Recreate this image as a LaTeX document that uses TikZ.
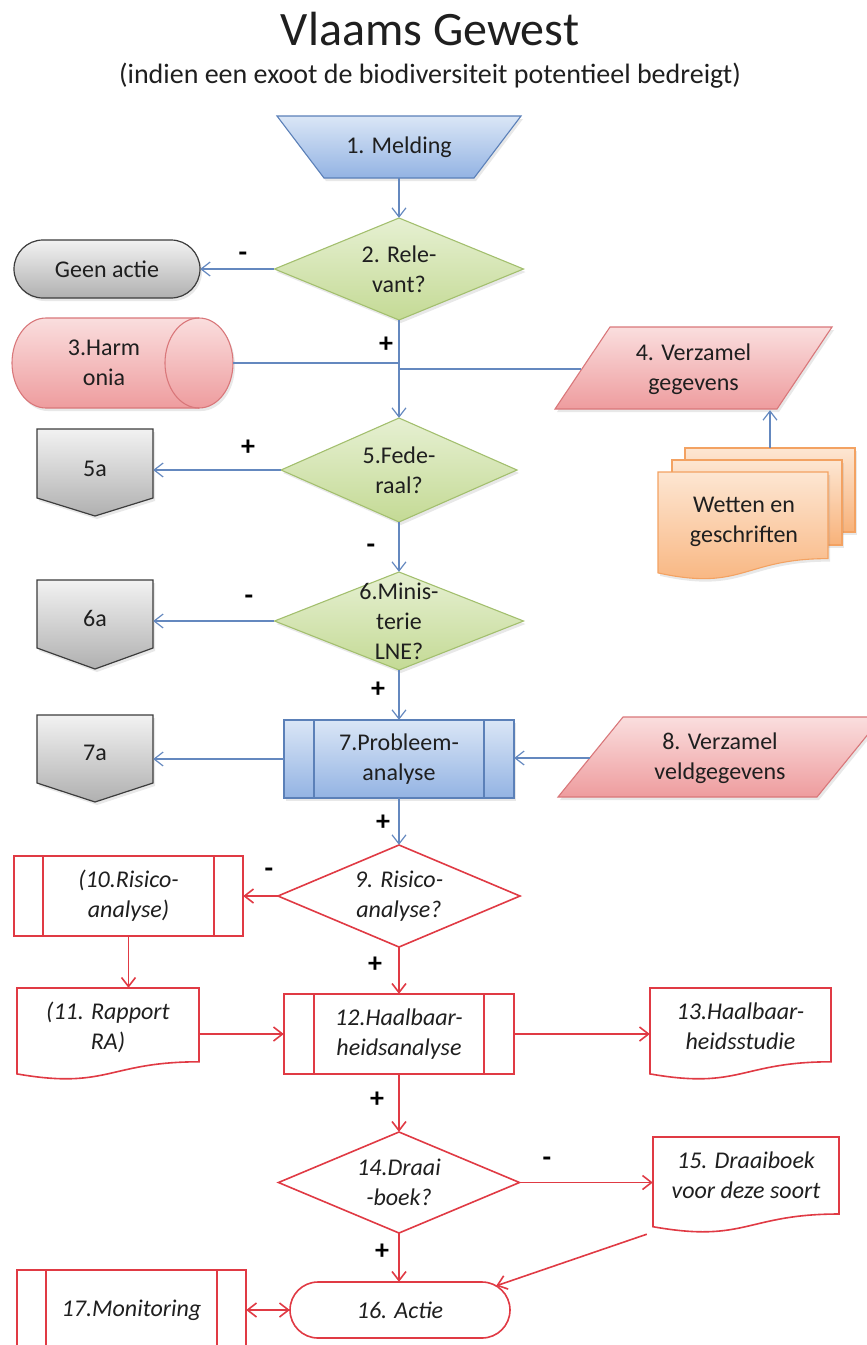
\documentclass[tikz,border=0pt]{standalone}
\usepackage{fontspec}
\setmainfont{Carlito}
\usetikzlibrary{arrows.meta,shadows}
\definecolor{txtc}{HTML}{1F1F1F}
\definecolor{bluetop}{HTML}{DAE6F6}
\definecolor{bluebot}{HTML}{93B3E3}
\definecolor{blueedge}{HTML}{5B80B8}
\definecolor{bluearr}{HTML}{6488BF}
\definecolor{greentop}{HTML}{E6F0D2}
\definecolor{greenbot}{HTML}{C4DA95}
\definecolor{greenedge}{HTML}{A3BF6E}
\definecolor{greytop}{HTML}{F2F2F2}
\definecolor{greybot}{HTML}{B0B0B0}
\definecolor{greyedge}{HTML}{3C3C3C}
\definecolor{pinktop}{HTML}{FADEDE}
\definecolor{pinkbot}{HTML}{EE9C9E}
\definecolor{pinkedge}{HTML}{D9777A}
\definecolor{orangetop}{HTML}{FDE6D2}
\definecolor{orangebot}{HTML}{F8B27A}
\definecolor{orangeedge}{HTML}{F3A262}
\definecolor{redc}{HTML}{E03A44}
\tikzset{
  lbl/.style={inner sep=0pt, align=center, text=txtc, font=\fontsize{24}{30}\selectfont},
  ilbl/.style={lbl, font=\fontsize{24}{30}\selectfont\itshape},
  sign/.style={inner sep=0pt, text=black, font=\fontsize{28}{30}\selectfont\bfseries},
  shad/.style={drop shadow={opacity=0.18, shadow xshift=2pt, shadow yshift=-3pt}},
  bluefill/.style={shad, top color=bluetop, bottom color=bluebot, draw=blueedge, line width=1.1pt},
  greenfill/.style={shad, top color=greentop, bottom color=greenbot, draw=greenedge, line width=1.1pt},
  greyfill/.style={shad, top color=greytop, bottom color=greybot, draw=greyedge, line width=1.2pt},
  pinkfill/.style={shad, top color=pinktop, bottom color=pinkbot, draw=pinkedge, line width=1.1pt},
  orangefill/.style={shad, top color=orangetop, bottom color=orangebot, draw=orangeedge, line width=1.1pt},
  redshape/.style={draw=redc, line width=1.6pt, fill=white},
  barb/.tip={Straight Barb[length=9pt,width=14pt]},
  bline/.style={draw=bluearr, line width=1.2pt},
  barrow/.style={bline, -barb},
  rline/.style={draw=redc, line width=1.6pt},
  rarrow/.style={rline, -barb},
}
\begin{document}
\begin{tikzpicture}[x=1pt,y=-1pt]
\useasboundingbox (0,0) rectangle (867,1345);

% ---------- shapes ----------
% 1 Melding (trapezoid)
\path[bluefill] (277,116) -- (521,116) -- (474,178) -- (324,178) -- cycle;
% diamonds
\path[greenfill] (399,218) -- (523.5,269) -- (399,320) -- (274.5,269) -- cycle;
\path[greenfill] (399,418) -- (517,470) -- (399,522) -- (281,470) -- cycle;
\path[greenfill] (399,572) -- (523.5,621) -- (399,670) -- (274.5,621) -- cycle;
\path[redshape] (399,845) -- (520,896) -- (399,947) -- (278,896) -- cycle;
\path[redshape] (399,1132) -- (519.5,1182.5) -- (399,1233) -- (278.5,1182.5) -- cycle;
% Geen actie
\path[greyfill, rounded corners=29pt] (14,240) rectangle (200,298);
% Harmonia cylinder
\path[pinkfill] (46,318) -- (199,318) .. controls (217.8,318) and (233,338.1) .. (233,363)
  .. controls (233,387.9) and (217.8,408) .. (199,408) -- (46,408)
  .. controls (27.2,408) and (12,387.9) .. (12,363)
  .. controls (12,338.1) and (27.2,318) .. (46,318) -- cycle;
\draw[pinkedge, line width=1.1pt] (199,318) .. controls (180.2,318) and (165,338.1) .. (165,363)
  .. controls (165,387.9) and (180.2,408) .. (199,408);
% parallelograms
\path[pinkfill] (610,327) -- (832,327) -- (777,409) -- (555,409) -- cycle;
\path[pinkfill] (623,717) -- (882,717) -- (817,797) -- (558,797) -- cycle;
% Wetten en geschriften (multidocument)
\path[orangefill] (685,448) rectangle (855,532);
\path[orangefill] (672,460) rectangle (842,545);
\path[orangefill] (658,472) -- (828,472) -- (828,558.6) .. controls (743,558.6) and (743,591.6) .. (658,572.9) -- cycle;
% off-page connectors
\path[greyfill] (37,429) -- (153,429) -- (153,498) -- (95,516) -- (37,498) -- cycle;
\path[greyfill] (37,580) -- (153,580) -- (153,648) -- (95,669) -- (37,648) -- cycle;
\path[greyfill] (37,715) -- (153,715) -- (153,783) -- (95,802) -- (37,783) -- cycle;
% predefined processes
\path[bluefill] (284,720) rectangle (514,798);
\draw[blueedge, line width=1.1pt] (314,720) -- (314,798) (484,720) -- (484,798);
\path[redshape] (14,856) rectangle (243,936);
\draw[rline] (43,856) -- (43,936) (214,856) -- (214,936);
\path[redshape] (284,994) rectangle (514,1074);
\draw[rline] (314,994) -- (314,1074) (484,994) -- (484,1074);
\path[fill=white] (17,1270) rectangle (246,1345);
\draw[rline] (17,1345) -- (17,1270) -- (246,1270) -- (246,1345);
\draw[rline] (46,1270) -- (46,1345) (217,1270) -- (217,1345);
% documents
\path[redshape] (17,988) -- (199,988) -- (199,1061.8) .. controls (108,1061.8) and (108,1089.8) .. (17,1073.9) -- cycle;
\path[redshape] (650,988) -- (831,988) -- (831,1061.8) .. controls (740.5,1061.8) and (740.5,1089.8) .. (650,1073.9) -- cycle;
\path[redshape] (653,1137) -- (839,1137) -- (839,1214) .. controls (746,1214) and (746,1243.3) .. (653,1226.7) -- cycle;
% 16 Actie terminator
\path[redshape, rounded corners=28pt] (290,1282) rectangle (510,1338);

% ---------- nodes ----------
\node[inner sep=0pt, text=txtc, font=\fontsize{48}{52}\selectfont] (title) at (430,29) {Vlaams Gewest};
\node[inner sep=0pt, text=txtc, font=\fontsize{28}{32}\selectfont] (sub) at (430,76) {(indien een exoot de biodiversiteit potentieel bedreigt)};

\node[lbl, minimum width=244pt, minimum height=62pt] (m1) at (399,147) {1. Melding};
\node[lbl, minimum width=249pt, minimum height=102pt] (d2) at (399,269) {2. Rele-\\vant?};
\node[lbl, minimum width=186pt, minimum height=58pt] (geen) at (107,269) {Geen actie};
\node[lbl, minimum width=221pt, minimum height=90pt] (harm) at (122.5,363) {};
\node[lbl] (harmt) at (104,363) {3.Harm\\onia};
\node[lbl, minimum width=225pt, minimum height=82pt] (p4) at (693.5,369) {4. Verzamel\\gegevens};
\node[lbl, minimum width=170pt, minimum height=84pt] (wb) at (770,490) {};
\node[lbl] (wet) at (744,522) {Wetten en\\geschriften};
\node[lbl, minimum width=236pt, minimum height=104pt] (d5) at (399,470) {5.Fede-\\raal?};
\node[lbl, minimum width=116pt, minimum height=80pt] (o5) at (95,469) {5a};
\node[lbl, minimum width=249pt, minimum height=98pt] (d6) at (399,621) {6.Minis-\\terie\\LNE?};
\node[lbl, minimum width=116pt, minimum height=76pt] (o6) at (95,618) {6a};
\node[lbl, minimum width=230pt, minimum height=78pt] (p7) at (399,759) {7.Probleem-\\analyse};
\node[lbl, minimum width=116pt, minimum height=74pt] (o7) at (95,753) {7a};
\node[lbl, minimum width=259pt, minimum height=80pt] (p8) at (720,758) {8. Verzamel\\veldgegevens};
\node[ilbl, minimum width=242pt, minimum height=102pt] (d9) at (399,896) {9. Risico-\\analyse?};
\node[ilbl, minimum width=229pt, minimum height=80pt] (p10) at (128.5,896) {(10.Risico-\\analyse)};
\node[ilbl, minimum width=182pt, minimum height=79pt] (d11) at (108,1027.5) {(11. Rapport\\RA)};
\node[ilbl, minimum width=230pt, minimum height=80pt] (p12) at (399,1034) {12.Haalbaar-\\heidsanalyse};
\node[ilbl, minimum width=181pt, minimum height=76pt] (d13) at (740.5,1026) {13.Haalbaar-\\heidsstudie};
\node[ilbl, minimum width=241pt, minimum height=101pt] (d14) at (399,1182.5) {14.Draai\\-boek?};
\node[ilbl, minimum width=186pt, minimum height=76pt] (d15) at (746,1175) {15. Draaiboek\\voor deze soort};
\node[ilbl, minimum width=220pt, minimum height=56pt] (t16) at (400,1310) {16. Actie};
\node[ilbl, minimum width=229pt, minimum height=80pt] (p17) at (131.5,1310) {17.Monitoring};

% ---------- connectors ----------
\draw[barrow] (m1.south) -- (d2.north);
\draw[barrow] (d2.west) -- (geen.east);
\draw[barrow] (d2.south) -- (d5.north);
\draw[bline] (harm.east) -- (harm.east -| d2.south);
\draw[bline] (p4.west) -- (p4.west -| d2.south);
\draw[barrow] (wb.north) -- (wb.north |- p4.south);
\draw[barrow] (d5.west) -- (d5.west -| o5.east);
\draw[barrow] (d5.south) -- (d6.north);
\draw[barrow] (d6.west) -- (d6.west -| o6.east);
\draw[barrow] (d6.south) -- (p7.north);
\draw[barrow] (p7.west) -- (p7.west -| o7.east);
\draw[barrow] (p8.west) -- (p8.west -| p7.east);
\draw[barrow] (p7.south) -- (d9.north);
\draw[rarrow] (d9.west) -- (p10.east);
\draw[rarrow] (p10.south) -- (p10.south |- d11.north);
\draw[rarrow] (d9.south) -- (p12.north);
\draw[rarrow] (p12.west -| d11.east) -- (p12.west);
\draw[rarrow] (p12.east) -- (p12.east -| d13.west);
\draw[rarrow] (p12.south) -- (d14.north);
\draw[rarrow] (d14.east) -- (d14.east -| d15.west);
\draw[rarrow] (d14.south) -- (d14.south |- t16.north);
\draw[rarrow] ([xshift=-6pt,yshift=-21pt]d15.south west) -- ([xshift=-14pt,yshift=-4pt]t16.north east);
\draw[rline, barb-barb] (p17.east) -- (t16.west);

% ---------- branch signs ----------
\node[sign] (s1) at (243,257) {-};
\node[sign] (s2) at (386,345) {+};
\node[sign] (s3) at (248,448) {+};
\node[sign] (s4) at (371,549) {-};
\node[sign] (s5) at (249,600) {-};
\node[sign] (s6) at (378,690) {+};
\node[sign] (s7) at (383,823) {+};
\node[sign] (s8) at (269,873) {-};
\node[sign] (s9) at (375,965) {+};
\node[sign] (s10) at (377,1100) {+};
\node[sign] (s11) at (547,1162) {-};
\node[sign] (s12) at (382,1252) {+};
\end{tikzpicture}
\end{document}
